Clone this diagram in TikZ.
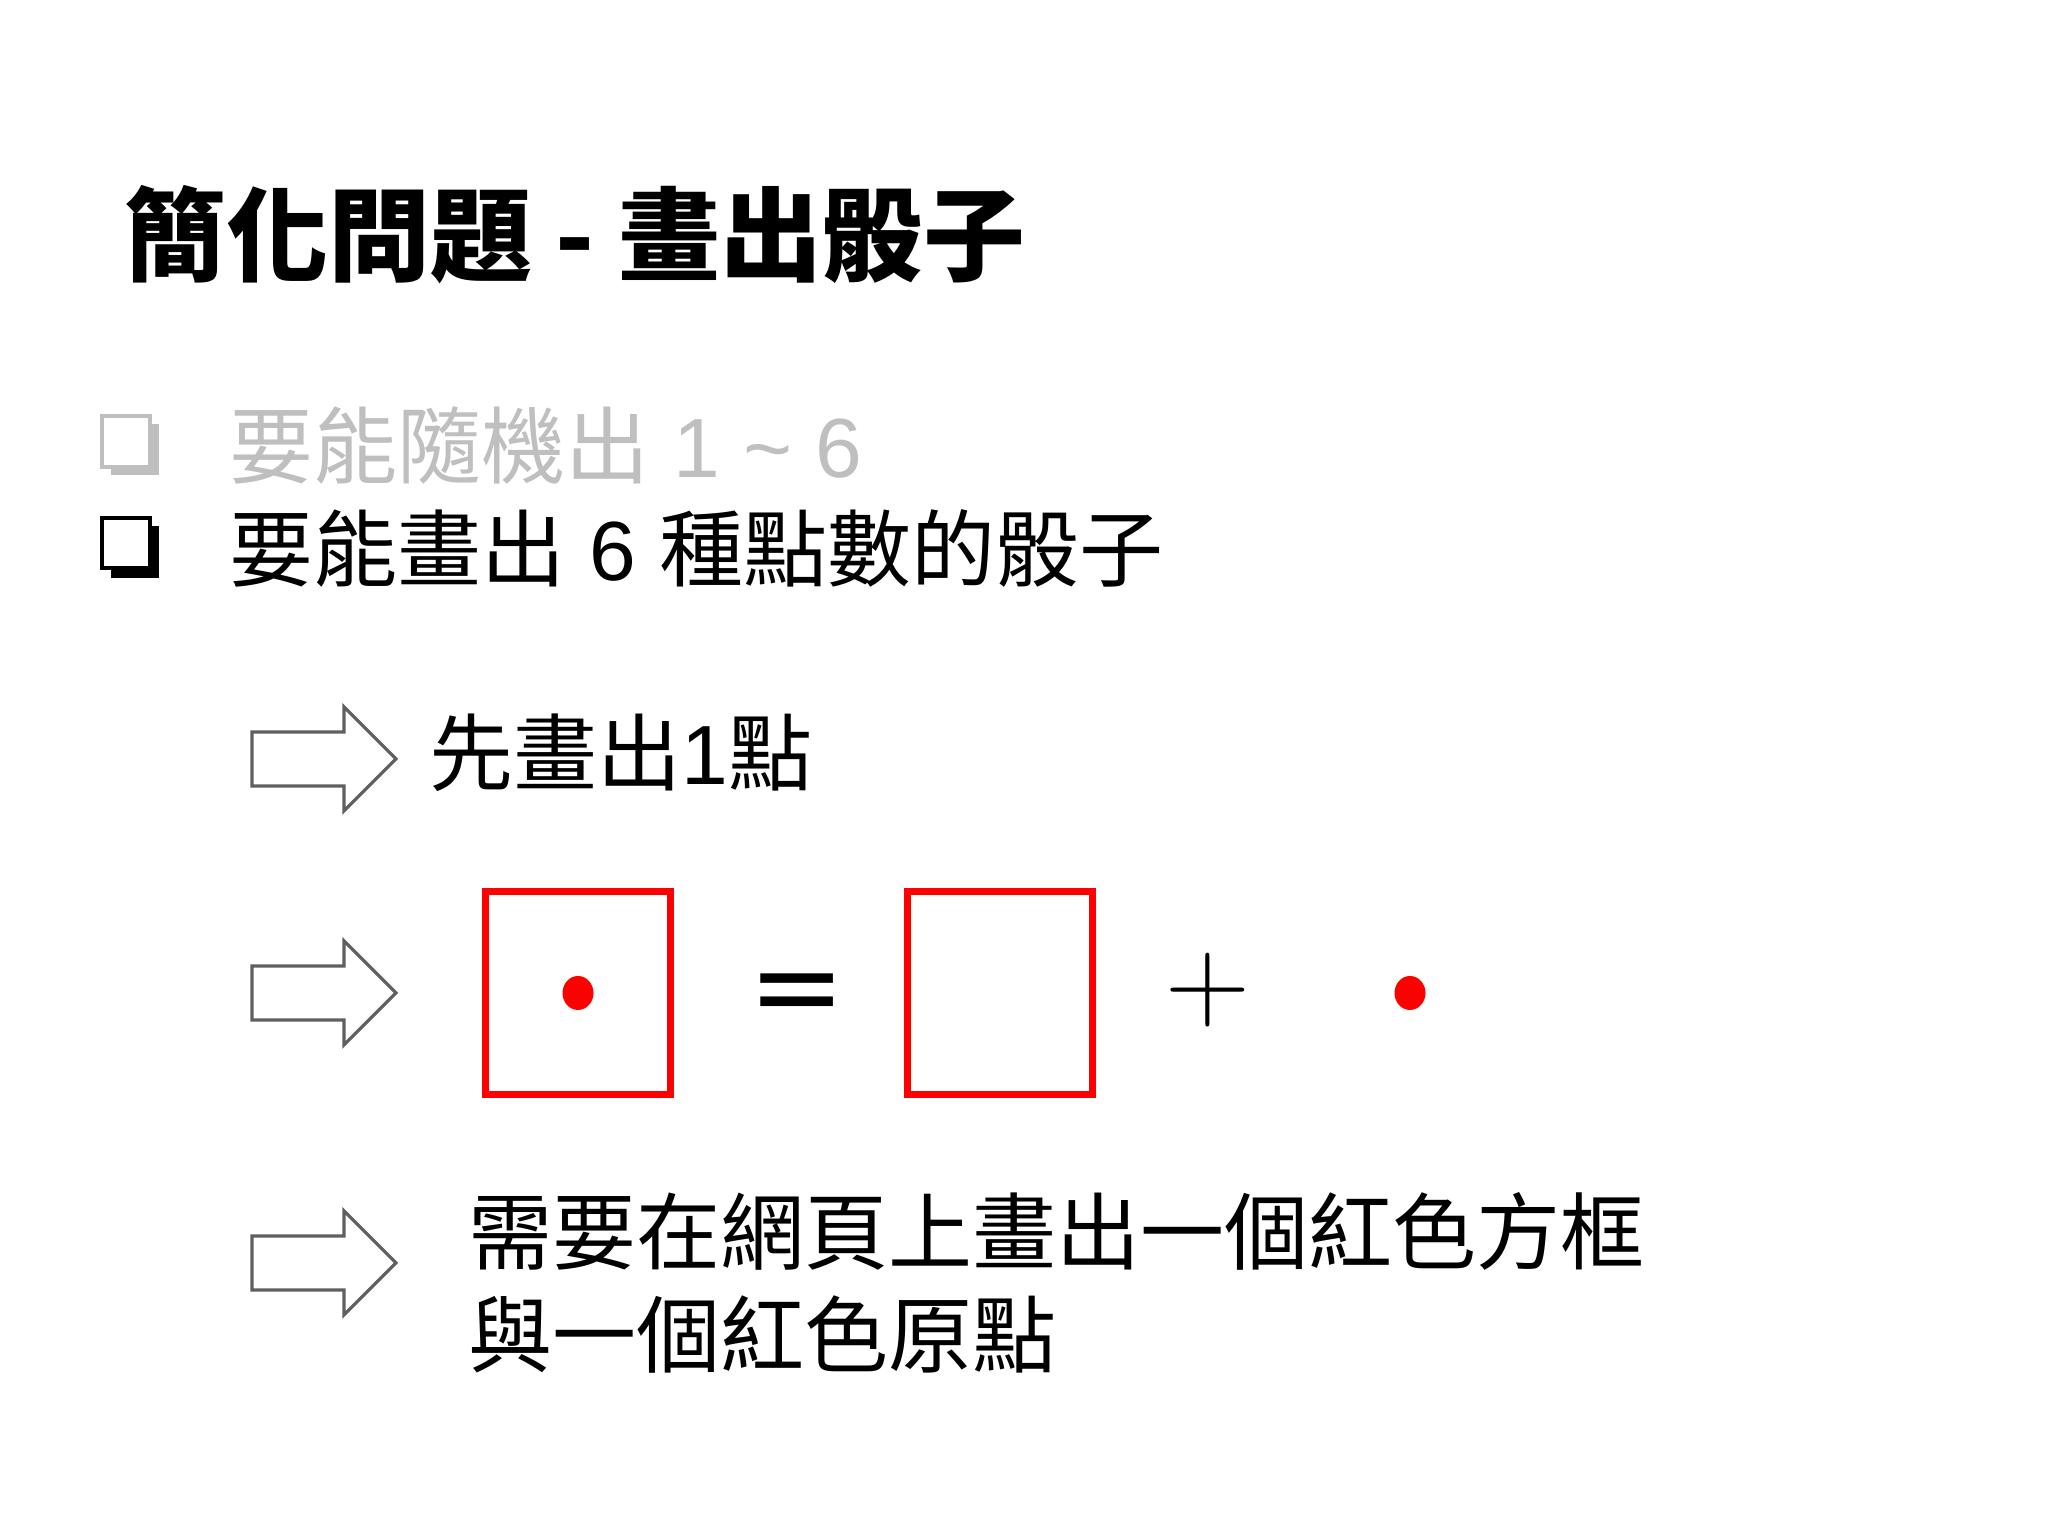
\documentclass[tikz,border=0pt]{standalone}
\usepackage{fontspec}
\newfontfamily\cjk{Noto Sans CJK TC}
\newfontfamily\lat{Liberation Sans}
\newfontfamily\symb{DejaVu Sans}
\usetikzlibrary{shapes,arrows,positioning}
\definecolor{fadegray}{HTML}{BFBFBF}
\definecolor{arrowgray}{HTML}{5F5F5F}

\begin{document}
\begin{tikzpicture}[
    body/.style={anchor=base west, inner sep=0pt, font=\cjk\fontsize{23.9}{28}\selectfont},
    headline/.style={anchor=base west, inner sep=0pt, font=\cjk\bfseries\fontsize{29}{34}\selectfont},
    hollow/.style={draw=arrowgray, line width=0.9pt, line join=miter, fill=white},
    diebox/.style={draw=red, line width=0.07cm, minimum width=1.85cm, minimum height=2.03cm, inner sep=0pt},
    pip/.style={ellipse, fill=red, minimum width=0.31cm, minimum height=0.34cm, inner sep=0pt},
  ]
      \useasboundingbox (0,0) rectangle (20.48,15.36);

      % Title
      \node[headline] (title) at (1.24,12.62) {簡化問題 - 畫出骰子};

      % Bullets
      \fill[fadegray] (1.11,11.12) rectangle (1.59,10.61);
      \draw[fadegray, line width=1.1pt, fill=white] (1.02,11.20) rectangle (1.50,10.69);
      \node[body, text=fadegray] (itemA) at (2.29,10.58) {要能隨機出{\lat{} 1 \char"007E{} 6}};
      \fill[black] (1.11,10.10) rectangle (1.59,9.58);
      \draw[black, line width=1.1pt, fill=white] (1.02,10.18) rectangle (1.50,9.68);
      \node[body] (itemB) at (2.29,9.55) {要能畫出{\lat{} 6 }種點數的骰子};

      % Arrow 1
      \draw[hollow] (2.52,7.50) -- (3.44,7.50) -- (3.44,7.25) -- (3.96,7.77) -- (3.44,8.29) -- (3.44,8.04) -- (2.52,8.04) -- cycle;
      \node[body] (step) at (4.29,7.51) {先畫出{\lat 1}點};

      % Arrow 2
      \draw[hollow] (2.52,5.16) -- (3.44,5.16) -- (3.44,4.91) -- (3.96,5.43) -- (3.44,5.95) -- (3.44,5.70) -- (2.52,5.70) -- cycle;
      \node[diebox] (die) at (5.78,5.43) {};
      \node[pip] (diepip) at (die.center) {};
      \node[anchor=base, inner sep=0pt, font=\symb\fontsize{33}{38}\selectfont] (eq) at (7.97,5.09) {=};
      \node[diebox] (frame) at (10.00,5.43) {};
      \node[anchor=base, inner sep=0pt, font=\fontsize{33.5}{38}\selectfont] (plus) at (12.08,5.16) {+};
      \node[pip] (dot) at (14.10,5.43) {};

      % Arrow 3
      \draw[hollow] (2.52,2.46) -- (3.44,2.46) -- (3.44,2.21) -- (3.96,2.73) -- (3.44,3.25) -- (3.44,3.00) -- (2.52,3.00) -- cycle;
      \node[body] (noteA) at (4.68,2.72) {需要在網頁上畫出一個紅色方框};
      \node[body] (noteB) at (4.68,1.69) {與一個紅色原點};
    \end{tikzpicture}
\end{document}
